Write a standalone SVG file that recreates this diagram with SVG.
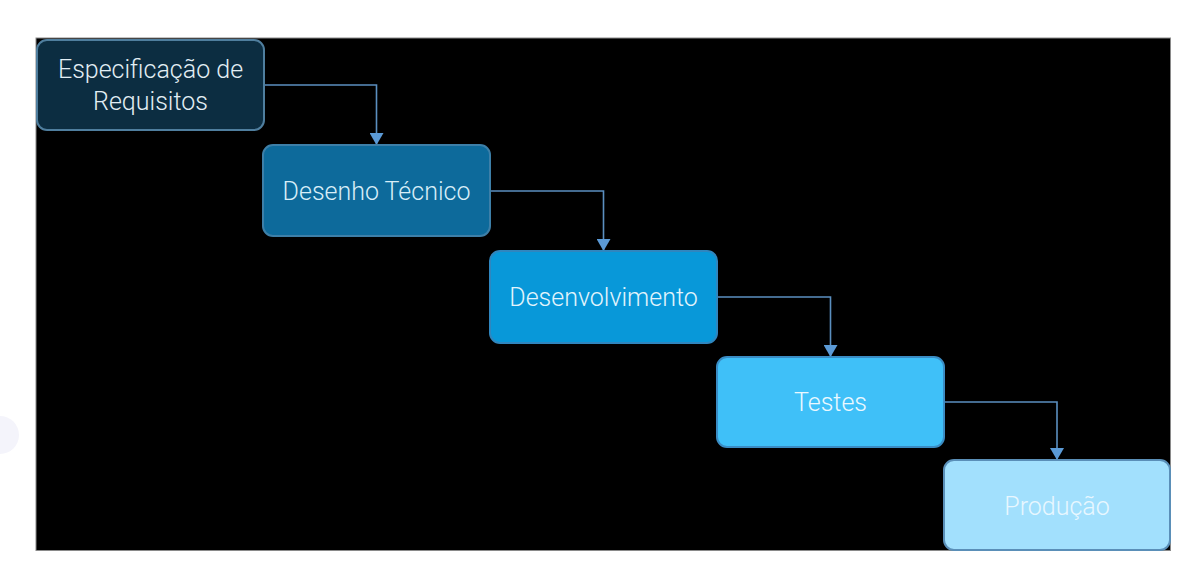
<svg xmlns="http://www.w3.org/2000/svg" width="1192" height="567" viewBox="0 0 1192 567">
<defs>
<style>
.node rect{stroke-width:2}
.lbl{font-family:Roboto,"Liberation Sans",sans-serif;font-weight:300;font-size:25px;text-anchor:middle}
.conn{fill:none;stroke:#5b8fc0;stroke-width:1.6}
</style>
<marker id="ah" markerWidth="12" markerHeight="14" refX="12" refY="7" orient="auto" markerUnits="userSpaceOnUse">
<path d="M0,0 L12,7 L0,14 Z" fill="#5b9ad6"/>
</marker>
</defs>
<rect x="0" y="0" width="1192" height="567" fill="#ffffff"/>
<circle cx="0" cy="435" r="19" fill="#f4f4fb"/>
<rect x="36" y="38" width="1134.5" height="512.5" fill="#000000" stroke="#8a8a8a" stroke-width="1"/>
<g id="connectors">
<path class="conn" d="M264,85 H376.5 V145" marker-end="url(#ah)"/>
<path class="conn" d="M491,191 H603.5 V251" marker-end="url(#ah)"/>
<path class="conn" d="M717,297 H830.5 V357" marker-end="url(#ah)"/>
<path class="conn" d="M944,402 H1057 V460" marker-end="url(#ah)"/>
</g>
<g id="n1" class="node">
<rect x="37" y="40" width="227" height="90" rx="10" fill="#0c2d41" stroke="#4f7e9e"/>
<text class="lbl" x="150.5" y="78" fill="#e2eef4">Especificação de</text>
<text class="lbl" x="150.5" y="110" fill="#e2eef4">Requisitos</text>
</g>
<g id="n2" class="node">
<rect x="263" y="145" width="227" height="91" rx="10" fill="#0d6a9b" stroke="#3d7fa8"/>
<text class="lbl" x="376.5" y="200" fill="#d8eef8">Desenho Técnico</text>
</g>
<g id="n3" class="node">
<rect x="490" y="251" width="227" height="92" rx="10" fill="#0898d9" stroke="#2f86bf"/>
<text class="lbl" x="603.5" y="306" fill="#e2f4fc">Desenvolvimento</text>
</g>
<g id="n4" class="node">
<rect x="717" y="357" width="227" height="90" rx="10" fill="#3fc0f8" stroke="#3a8cc4"/>
<text class="lbl" x="830.5" y="411" fill="#eaf8ff">Testes</text>
</g>
<g id="n5" class="node">
<rect x="944" y="460" width="226" height="90" rx="10" fill="#a2e0fd" stroke="#5a8fb8"/>
<text class="lbl" x="1057" y="515" fill="#e8f7ff">Produção</text>
</g>
</svg>
